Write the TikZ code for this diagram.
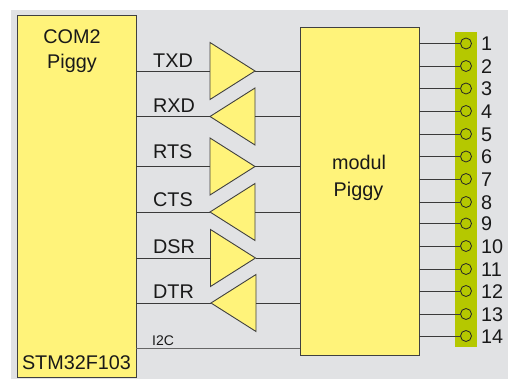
\documentclass[tikz,border=0pt]{standalone}
\usepackage{fontspec}
\setmainfont{Liberation Sans}
\usetikzlibrary{shapes.geometric}
\definecolor{panel}{HTML}{E1E2E4}
\definecolor{chip}{HTML}{FFF37A}
\definecolor{strip}{HTML}{B5C800}
\definecolor{wire}{HTML}{3A3A3A}
\tikzset{
  block/.style={draw=black!75, fill=chip, line width=.9pt, inner sep=0pt, outer sep=0pt},
  amp/.style={draw=black!75, fill=chip, line width=.9pt, inner sep=0pt, outer sep=0pt, shape=isosceles triangle,
    isosceles triangle stretches, minimum width=57pt, minimum height=45pt},
  ampr/.style={amp, shape border rotate=0},
  ampl/.style={amp, shape border rotate=180},
  pin/.style={circle, draw=black!85, line width=.8pt, minimum size=11pt, inner sep=0pt, outer sep=0pt},
  sig/.style={anchor=base west, font=\fontsize{19.8}{20}\selectfont, text=black!90, inner sep=0pt},
  wired/.style={draw=wire, line width=.9pt}
}
\begin{document}
\begin{tikzpicture}[x=1pt,y=-1pt]
  \useasboundingbox (0,0) rectangle (508,379);
  \fill[panel] (11,10) rectangle (508,379);
  \node (com) [block, minimum width=119pt, minimum height=362pt] at (76.5,196) {};
  \node (modul) [block, minimum width=119pt, minimum height=328pt] at (359.5,191) {};
  \node (strip) [fill=strip, minimum width=22pt, inner sep=0pt, minimum height=315pt] at (466,189.5) {};
  % labels on the blocks
  \node (comA) [sig, anchor=base] at (72,44) {COM2};
  \node (comB) [sig, anchor=base] at (72,69) {Piggy};
  \node (stm) [sig, anchor=base] at (76.5,369) {STM32F103};
  \node (modA) [sig, anchor=base] at (359,170) {modul};
  \node (modB) [sig, anchor=base] at (358.5,197) {Piggy};
  % line drivers
  \node (txd) [ampr, anchor=apex] at (255,71) {};
  \node (rxd) [ampl, anchor=apex] at (210,116.5) {};
  \node (rts) [ampr, anchor=apex] at (255,166.5) {};
  \node (cts) [ampl, anchor=apex] at (210,212) {};
  \node (dsr) [ampr, anchor=apex] at (255.5,258) {};
  \node (dtr) [ampl, anchor=apex] at (211,303) {};
  \node (ltxd) [sig] at (153,68) {TXD};
  \node (lrxd) [sig] at (153,113) {RXD};
  \node (lrts) [sig] at (153,159) {RTS};
  \node (lcts) [sig] at (153,207) {CTS};
  \node (ldsr) [sig] at (153,254) {DSR};
  \node (ldtr) [sig] at (153,298) {DTR};
  \node (li2c) [sig, font=\fontsize{14}{14}\selectfont] at (152,345) {I2C};
  \coordinate (i2c) at (136,348);
  \foreach \a in {txd,rts,dsr} {
    \path[wired] (com.east |- \a.lower side) -- (\a.lower side);
    \path[wired] (\a.apex) -- (\a.apex -| modul.west);
  }
  \foreach \a in {rxd,cts,dtr} {
    \path[wired] (com.east |- \a.apex) -- (\a.apex);
    \path[wired] (\a.lower side) -- (\a.lower side -| modul.west);
  }
  \draw[black!60, line width=.7pt] (i2c) -- (i2c -| modul.west);
  % connector pins
  \foreach \n/\y in {1/43.5,2/66,3/88.5,4/111,5/134,6/156.5,7/179,8/202,9/223.5,10/246,11/269,12/291,13/314,14/336} {
    \node (p\n) [pin] at (466,\y) {};
    \node (n\n) [sig] at (481,\y+7.5) {\n};
    \path[wired] (modul.east |- p\n) -- (p\n);
  }
\end{tikzpicture}
\end{document}
